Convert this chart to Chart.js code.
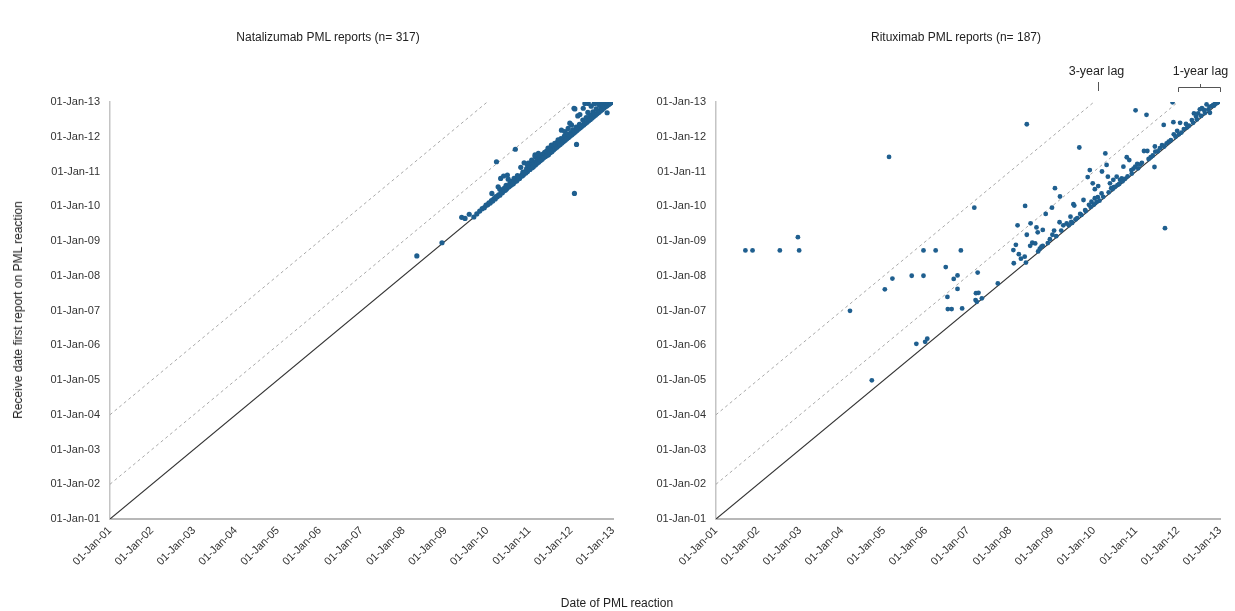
<!DOCTYPE html>
<html>
<head>
<meta charset="utf-8">
<script src="https://cdn.jsdelivr.net/npm/chart.js@4.4.1/dist/chart.umd.min.js"></script>
<style>
  html, body { margin: 0; padding: 0; background: #ffffff; }
  #wrap { position: relative; width: 1235px; height: 611px; overflow: hidden; font-family: "Liberation Sans", Arial, sans-serif; }
  canvas { position: absolute; top: 0; }
  .txt { position: absolute; font-size: 12px; color: #222; white-space: nowrap; z-index: 2; line-height: 1; }
</style>
</head>
<body>
<div id="wrap">
  <canvas id="natChart" width="625" height="611" style="left:0px"></canvas>
  <canvas id="ritChart" width="605" height="611" style="left:630px"></canvas>
  <div class="txt" id="natTitle" style="left:328px; top:37px; transform: translate(-50%, -50%);"></div>
  <div class="txt" id="ritTitle" style="left:956px; top:37px; transform: translate(-50%, -50%);"></div>
  <div class="txt" id="yTitle" style="left:18px; top:310px; transform: translate(-50%, -50%) rotate(-90deg);"></div>
  <div class="txt" id="xTitle" style="left:617px; top:603px; transform: translate(-50%, -50%);"></div>
</div>
<script>
// ---------------- DATA ----------------
const axisStartYear = 2001;
const axisEndYear = 2013;
const tickLabels = ['01-Jan-01','01-Jan-02','01-Jan-03','01-Jan-04','01-Jan-05','01-Jan-06','01-Jan-07',
                    '01-Jan-08','01-Jan-09','01-Jan-10','01-Jan-11','01-Jan-12','01-Jan-13'];
const panelTitles = ['Natalizumab PML reports (n= 317)', 'Rituximab PML reports (n= 187)'];
const xAxisTitle = 'Date of PML reaction';
const yAxisTitle = 'Receive date first report on PML reaction';
const lagYears = [0, 1, 3];
const lagLabels = ['3-year lag', '1-year lag'];

// [date of PML reaction, receive date of first report] in decimal years
const natalizumabPoints = [
 [2008.32,2008.57],[2008.92,2008.95],
 [2009.39,2009.68],[2009.47,2009.65],[2009.57,2009.77],[2009.68,2009.69],
 [2009.75,2009.78],[2009.82,2009.86],[2009.88,2009.93],[2009.93,2009.96],[2009.97,2010.03],[2010.01,2010.04],
 [2010.04,2010.10],[2010.07,2010.09],[2010.10,2010.16],[2010.11,2010.37],[2010.13,2010.15],[2010.16,2010.22],
 [2010.19,2010.21],[2010.21,2010.28],[2010.22,2011.28],[2010.24,2010.27],[2010.26,2010.56],[2010.27,2010.33],
 [2010.30,2010.49],[2010.30,2010.32],[2010.32,2010.80],[2010.33,2010.38],[2010.35,2010.45],[2010.36,2010.39],
 [2010.39,2010.87],[2010.39,2010.44],[2010.41,2010.52],[2010.43,2010.46],[2010.45,2010.60],[2010.46,2010.50],
 [2010.48,2010.90],[2010.49,2010.55],[2010.50,2010.78],[2010.52,2010.56],[2010.54,2010.66],[2010.55,2010.60],
 [2010.57,2010.72],[2010.58,2010.62],[2010.60,2010.68],[2010.62,2010.65],[2010.64,2010.80],[2010.65,2010.70],
 [2010.67,2011.64],[2010.68,2010.75],[2010.70,2010.73],[2010.72,2010.88],[2010.73,2010.78],[2010.75,2010.82],
 [2010.77,2010.80],[2010.80,2011.12],[2010.80,2010.86],[2010.82,2010.90],[2010.83,2010.87],[2010.85,2010.98],
 [2010.86,2010.90],[2010.88,2011.25],[2010.89,2010.95],[2010.91,2011.00],[2010.92,2010.96],[2010.94,2011.08],
 [2010.96,2011.19],[2010.96,2011.00],[2010.98,2011.24],[2010.99,2011.05],[2011.01,2011.10],[2011.02,2011.06],
 [2011.04,2011.15],[2011.06,2011.22],[2011.06,2011.33],[2011.07,2011.11],[2011.09,2011.20],[2011.10,2011.14],
 [2011.12,2011.25],[2011.14,2011.48],[2011.14,2011.43],[2011.15,2011.19],[2011.17,2011.30],[2011.19,2011.24],
 [2011.21,2011.36],[2011.22,2011.52],[2011.22,2011.47],[2011.23,2011.27],[2011.25,2011.40],[2011.27,2011.32],
 [2011.29,2011.44],[2011.30,2011.47],[2011.31,2011.35],[2011.33,2011.50],[2011.34,2011.45],[2011.35,2011.40],
 [2011.37,2011.55],[2011.38,2011.52],[2011.39,2011.43],[2011.41,2011.58],[2011.43,2011.47],[2011.45,2011.67],
 [2011.46,2011.48],[2011.47,2011.55],[2011.49,2011.62],[2011.50,2011.54],[2011.52,2011.70],[2011.53,2011.76],
 [2011.54,2011.57],[2011.56,2011.66],[2011.58,2011.62],[2011.60,2011.74],[2011.61,2011.81],[2011.62,2011.66],
 [2011.64,2011.78],[2011.66,2011.70],[2011.68,2011.85],[2011.69,2011.91],[2011.70,2011.74],[2011.72,2011.82],
 [2011.74,2011.78],[2011.76,2011.95],[2011.77,2012.19],[2011.78,2011.82],[2011.80,2011.90],[2011.82,2011.86],
 [2011.84,2012.02],[2011.85,2012.15],[2011.86,2011.90],[2011.88,2011.98],[2011.90,2011.94],[2011.92,2012.08],
 [2011.93,2012.24],[2011.94,2011.98],[2011.96,2012.05],[2011.97,2012.39],[2011.98,2012.02],[2012.00,2012.12],
 [2012.01,2012.34],[2012.02,2012.06],[2012.04,2012.20],[2012.06,2012.10],[2012.07,2012.82],[2012.08,2010.37],
 [2012.08,2012.16],[2012.09,2012.80],[2012.10,2012.14],[2012.12,2012.28],[2012.13,2011.78],[2012.14,2012.18],
 [2012.16,2012.60],[2012.16,2012.24],[2012.18,2012.22],[2012.20,2012.36],[2012.21,2012.64],[2012.22,2012.26],
 [2012.24,2012.32],[2012.26,2012.30],[2012.28,2012.48],[2012.29,2012.82],[2012.30,2012.34],[2012.32,2012.40],
 [2012.33,2012.96],[2012.34,2012.38],[2012.36,2012.55],[2012.38,2012.42],[2012.40,2012.70],[2012.41,2012.96],
 [2012.42,2012.46],[2012.44,2012.58],[2012.46,2012.50],[2012.48,2012.88],[2012.49,2012.62],[2012.50,2012.54],
 [2012.52,2012.72],[2012.54,2012.58],[2012.55,2012.95],[2012.56,2012.66],[2012.58,2012.62],[2012.60,2012.80],
 [2012.61,2012.97],[2012.62,2012.66],[2012.64,2012.74],[2012.66,2012.70],[2012.67,2012.92],[2012.68,2012.98],
 [2012.70,2012.74],[2012.71,2012.84],[2012.73,2012.96],[2012.74,2012.78],[2012.76,2012.90],[2012.78,2012.82],
 [2012.79,2012.99],[2012.80,2012.87],[2012.82,2012.86],[2012.83,2012.97],[2012.86,2012.69],[2012.85,2012.92],
 [2012.86,2012.89],[2012.88,2013.00],[2012.89,2012.95],[2012.90,2012.93],[2012.92,2012.99],[2012.93,2012.96],
 [2012.95,2013.00],[2012.96,2012.98],[2012.98,2013.01],[2012.99,2013.00]
];

const rituximabPoints = [
 [2001.70,2008.73],[2001.87,2008.73],[2002.52,2008.73],[2002.95,2009.11],[2002.98,2008.73],
 [2004.19,2006.99],[2004.71,2004.99],
 [2005.02,2007.61],[2005.12,2011.42],[2005.20,2007.92],[2005.66,2008.00],[2005.94,2008.00],[2005.94,2008.73],[2006.23,2008.73],
 [2005.77,2006.04],[2005.98,2006.10],[2006.03,2006.19],
 [2006.47,2008.25],[2006.51,2007.39],[2006.52,2007.04],[2006.61,2007.04],[2006.66,2007.91],[2006.75,2008.01],
 [2006.75,2007.62],[2006.83,2008.73],[2006.86,2007.06],
 [2007.15,2009.96],[2007.19,2007.50],[2007.25,2007.51],[2007.18,2007.30],[2007.21,2007.25],[2007.33,2007.35],
 [2007.23,2008.09],[2007.71,2007.78],
 [2008.08,2008.74],[2008.14,2008.89],[2008.09,2008.36],[2008.18,2009.45],[2008.21,2008.62],[2008.26,2008.49],
 [2008.35,2008.55],[2008.38,2008.38],[2008.36,2010.01],[2008.40,2012.36],[2008.40,2009.18],[2008.49,2009.51],
 [2008.48,2008.86],[2008.53,2008.95],[2008.60,2008.93],[2008.63,2009.39],[2008.66,2009.25],[2008.67,2008.70],
 [2008.71,2008.78],[2008.75,2008.84],[2008.78,2008.86],[2008.78,2009.32],[2008.85,2009.78],[2008.90,2008.94],
 [2008.95,2009.05],[2009.00,2009.96],[2009.01,2009.18],[2009.05,2009.30],[2009.07,2010.52],[2009.10,2009.14],
 [2009.18,2009.54],[2009.19,2010.28],[2009.22,2009.30],[2009.27,2009.45],[2009.35,2009.51],[2009.40,2009.45],
 [2009.44,2009.70],[2009.46,2009.55],[2009.48,2009.52],[2009.51,2010.06],[2009.53,2010.02],[2009.56,2009.62],
 [2009.60,2009.66],[2009.65,2011.69],[2009.67,2009.78],[2009.70,2009.75],[2009.75,2010.18],[2009.79,2009.89],
 [2009.80,2009.86],[2009.85,2010.84],[2009.88,2010.04],[2009.90,2011.04],[2009.92,2009.98],[2009.94,2010.13],
 [2009.97,2010.66],[2010.00,2010.05],[2010.02,2010.49],[2010.02,2010.23],[2010.06,2010.12],[2010.09,2010.26],
 [2010.10,2010.58],[2010.13,2010.16],[2010.18,2010.37],[2010.19,2011.00],[2010.22,2010.27],[2010.27,2011.52],
 [2010.30,2011.19],[2010.33,2010.85],[2010.35,2010.40],[2010.38,2010.66],[2010.41,2010.52],[2010.44,2010.49],
 [2010.46,2010.76],[2010.47,2010.55],[2010.50,2010.56],[2010.54,2010.85],[2010.56,2010.61],[2010.60,2010.64],
 [2010.62,2010.76],[2010.66,2010.80],[2010.68,2010.72],[2010.70,2011.14],[2010.74,2010.79],[2010.78,2011.41],
 [2010.80,2010.86],[2010.84,2011.33],[2010.89,2011.04],[2010.90,2010.94],[2010.94,2011.08],[2010.98,2011.14],
 [2010.99,2012.76],[2011.03,2011.22],[2011.05,2011.09],[2011.10,2011.20],[2011.14,2011.25],[2011.19,2011.59],
 [2011.25,2012.63],[2011.27,2011.59],[2011.30,2011.36],[2011.35,2011.41],[2011.40,2011.46],[2011.44,2011.13],
 [2011.45,2011.72],[2011.46,2011.57],[2011.52,2011.58],[2011.57,2011.67],[2011.62,2011.76],[2011.66,2012.34],
 [2011.67,2011.72],[2011.69,2009.37],[2011.73,2011.81],[2011.78,2011.86],[2011.83,2011.90],[2011.87,2012.99],
 [2011.89,2012.42],[2011.90,2012.07],[2011.94,2012.00],[2011.98,2012.17],[2012.02,2012.07],[2012.05,2012.40],
 [2012.08,2012.12],[2012.14,2012.22],[2012.19,2012.37],[2012.22,2012.27],[2012.26,2012.32],[2012.33,2012.48],
 [2012.36,2012.40],[2012.38,2012.67],[2012.43,2012.58],[2012.45,2012.50],[2012.48,2012.67],[2012.52,2012.79],
 [2012.55,2012.60],[2012.57,2012.82],[2012.62,2012.77],[2012.64,2012.68],[2012.68,2012.93],[2012.72,2012.78],
 [2012.75,2012.86],[2012.76,2012.69],[2012.80,2012.88],[2012.84,2012.92],[2012.86,2012.90],[2012.89,2012.96],
 [2012.93,2012.97],[2012.96,2013.00]
];

// ---------------- TEXT ----------------
document.getElementById('natTitle').textContent = panelTitles[0];
document.getElementById('ritTitle').textContent = panelTitles[1];
document.getElementById('xTitle').textContent = xAxisTitle;
document.getElementById('yTitle').textContent = yAxisTitle;

// ---------------- CHART BUILD ----------------
const FONT = '"Liberation Sans", Arial, sans-serif';
const POINT_COLOR = '#1f5f8f';

function toXY(arr) { return arr.map(p => ({ x: p[0], y: p[1] })); }

function lagLineDatasets() {
  return lagYears.map(lag => ({
    type: 'scatter',
    data: [{ x: axisStartYear, y: axisStartYear + lag }, { x: axisEndYear - lag, y: axisEndYear }],
    showLine: true,
    borderColor: lag === 0 ? '#333333' : '#a8a8a8',
    borderWidth: lag === 0 ? 1.1 : 1,
    borderDash: lag === 0 ? [] : [3, 3],
    pointRadius: 0,
    pointHoverRadius: 0,
    order: 2
  }));
}

function tickCb(v) {
  const i = Math.round(v - axisStartYear);
  return tickLabels[i] !== undefined ? tickLabels[i] : '';
}

function makeConfig(points, radius, pad, yWidth, extraPlugins) {
  return {
    type: 'scatter',
    data: {
      datasets: [
        {
          data: toXY(points),
          backgroundColor: POINT_COLOR,
          borderColor: POINT_COLOR,
          borderWidth: 0,
          pointRadius: radius,
          pointHoverRadius: radius,
          order: 1
        },
        ...lagLineDatasets()
      ]
    },
    options: {
      responsive: false,
      animation: false,
      events: [],
      layout: { padding: pad },
      plugins: {
        legend: { display: false },
        tooltip: { enabled: false },
        title: { display: false }
      },
      scales: {
        x: {
          type: 'linear',
          min: axisStartYear, max: axisEndYear,
          grid: { display: false, drawTicks: false },
          border: { display: true, color: '#b8b8b8', width: 2 },
          ticks: {
            stepSize: 1, autoSkip: false, minRotation: 45, maxRotation: 45,
            padding: 5, color: '#333', font: { family: FONT, size: 11 },
            callback: tickCb
          },
          afterFit: s => { s.height = 92; s.paddingLeft = 0; s.paddingRight = 0; }
        },
        y: {
          type: 'linear',
          min: axisStartYear, max: axisEndYear,
          grid: { display: false, drawTicks: false },
          border: { display: true, color: '#c4c4c4', width: 1.5 },
          ticks: {
            stepSize: 1, autoSkip: false, padding: 10, color: '#333',
            font: { family: FONT, size: 11 },
            callback: tickCb
          },
          afterFit: s => { s.width = yWidth; s.paddingTop = 0; s.paddingBottom = 0; }
        }
      }
    },
    plugins: extraPlugins || []
  };
}

const lagAnnotations = {
  id: 'lagAnnotations',
  afterDraw(chart) {
    const ctx = chart.ctx;
    const xs = chart.scales.x;
    ctx.save();
    ctx.fillStyle = '#222';
    ctx.strokeStyle = '#555';
    ctx.lineWidth = 1;
    ctx.font = '12.5px ' + FONT;
    ctx.textAlign = 'center';
    ctx.textBaseline = 'middle';
    // 3-year lag marker at the end of the 3-year dashed line
    const x3 = Math.round(xs.getPixelForValue(axisEndYear - lagYears[2] + 0.1)) + 0.5;
    ctx.fillText(lagLabels[0], x3 - 2, 72);
    ctx.beginPath(); ctx.moveTo(x3, 82); ctx.lineTo(x3, 91); ctx.stroke();
    // 1-year lag bracket
    const xa = Math.round(xs.getPixelForValue(axisEndYear - lagYears[1])) + 0.5;
    const xb = Math.round(xs.getPixelForValue(axisEndYear)) + 0.5;
    const xm = Math.round((xa + xb) / 2) + 0.5;
    ctx.fillText(lagLabels[1], xm, 72);
    ctx.beginPath();
    ctx.moveTo(xa, 92); ctx.lineTo(xa, 87.5); ctx.lineTo(xb, 87.5); ctx.lineTo(xb, 92);
    ctx.moveTo(xm, 87.5); ctx.lineTo(xm, 84);
    ctx.stroke();
    ctx.restore();
  }
};

new Chart(document.getElementById('natChart'),
  makeConfig(natalizumabPoints, 2.6, { left: 30, right: 12, top: 102, bottom: 0 }, 80));
new Chart(document.getElementById('ritChart'),
  makeConfig(rituximabPoints, 2.4, { left: 0, right: 15, top: 102, bottom: 0 }, 86, [lagAnnotations]));
</script>
</body>
</html>
